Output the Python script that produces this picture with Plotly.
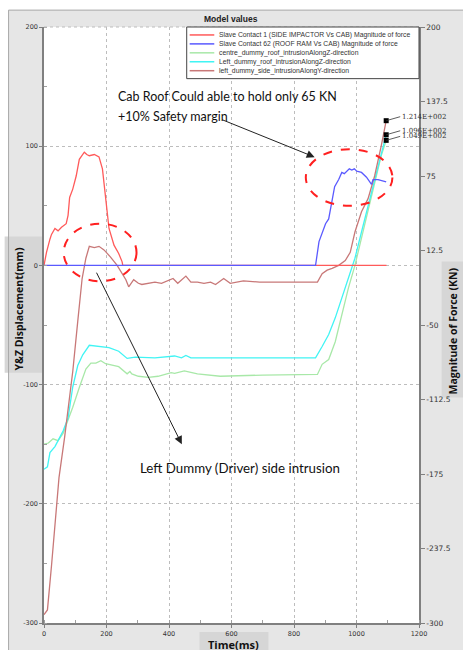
import math
import plotly.graph_objects as go

# ---------------- data ----------------
t_side_force = [0, 8, 19, 24, 35, 45, 56, 62, 71, 77, 82, 92, 103, 113, 129, 137, 145, 161, 176, 187,
                197, 208, 224, 239, 250, 252, 1096]
side_force = [0, 11, 22, 26, 31, 29, 32, 33, 35, 42, 57, 64, 75, 89, 95, 93, 92, 93, 91, 81,
              59, 31, 17, 10, 3, 0, 0]

t_roof_force = [0, 869, 880, 901, 911, 922, 930, 943, 953, 961, 969, 977, 985, 993, 1001, 1016,
                1032, 1048, 1053, 1069, 1095]
roof_force = [0, 0, 20, 35, 39, 53, 66, 72, 78, 77, 79, 81, 80, 81, 79, 78,
              74, 68, 72, 72, 70]

t_centre_z = [0, 14, 29, 45, 61, 77, 92, 113, 134, 150, 166, 182, 197, 239, 266, 275, 281, 302, 334,
              365, 407, 418, 449, 491, 564, 700, 869, 875, 890, 911, 932, 953, 974, 995, 1016,
              1037, 1058, 1079, 1095]
centre_z = [-150, -149, -145.5, -147, -141, -130, -119, -102.5, -87, -82, -82, -80, -82.5, -85, -91,
            -89, -91, -93, -94, -93, -90, -90.5, -88.5, -91, -93, -92, -92, -91.5, -83, -79, -64,
            -41, -19, 0, 22.5, 47.5, 70, 92, 104.9]

t_left_z = [0, 11, 19, 35, 45, 61, 77, 92, 108, 124, 145, 176, 208, 239, 266, 292, 355, 418, 440,
            454, 470, 600, 869, 890, 911, 932, 953, 974, 995, 1016, 1037, 1058, 1079, 1095]
left_z = [-171, -169, -157, -152, -147, -139, -128, -102, -84, -75, -67, -68, -69, -72, -78, -77,
          -77.5, -76, -77.5, -75.5, -77.5, -77.5, -77.5, -68, -58, -44, -27.5, -11, 6, 28, 50,
          72.5, 92, 109.6]

t_left_y = [0, 11, 24, 35, 48, 66, 77, 92, 108, 122, 134, 145, 161, 176, 192, 213, 234, 250, 262,
            271, 287, 302, 313, 355, 376, 413, 428, 454, 470, 491, 512, 533, 549, 575, 596, 638,
            690, 796, 875, 890, 906, 922, 943, 964, 980, 995, 1016, 1037, 1058, 1079, 1095]
left_y = [-293, -289, -252, -216, -178, -144, -122, -89, -47, -11, 6, 16, 15, 16, 13, 7, 0, -7, -12,
          -18, -12, -15, -16, -14, -15, -11, -15, -9, -14, -14, -15, -14, -16, -11, -15, -13,
          -14, -14, -14, -7, -4, -2.5, 0, 4, 11, 28, 45, 56, 75, 100, 121.4]

series_names = [
    "Slave Contact 1 (SIDE IMPACTOR Vs CAB) Magnitude of force",
    "Slave Contact 62 (ROOF RAM Vs CAB) Magnitude of force",
    "centre_dummy_roof_intrusionAlongZ-direction",
    "Left_dummy_roof_intrusionAlongZ-direction",
    "left_dummy_side_intrusionAlongY-direction",
]
series_colors = ["#ff5a5a", "#5a5aff", "#a8e8a8", "#40f4f4", "#c87878"]

x_ticks = [0, 200, 400, 600, 800, 1000, 1200]
y_ticks = [-300, -200, -100, 0, 100, 200]
y2_ticks = [-300, -237.5, -175, -112.5, -50, 12.5, 75, 137.5, 200]

# ---------------- layout helpers (pixel -> paper) ----------------
W, H = 463, 650
L, R, T, B = 44, 425, 27, 627


def px(xp):
    return (xp - L) / (R - L)


def py(yp):
    return (B - yp) / (B - T)


def sci(v):
    e = int(math.floor(math.log10(abs(v))))
    m = v / 10 ** e
    return f"{m:.3f}E{'+' if e >= 0 else '-'}{abs(e):03d}"


fig = go.Figure()

disp = [(t_centre_z, centre_z), (t_left_z, left_z), (t_left_y, left_y)]
for (xs, ys), nm, col in zip(disp, series_names[2:], series_colors[2:]):
    fig.add_trace(go.Scatter(x=xs, y=ys, mode="lines", name=nm, showlegend=False,
                             line=dict(color=col, width=1.3), yaxis="y"))

for (xs, ys), nm, col in zip([(t_side_force, side_force), (t_roof_force, roof_force)],
                             series_names[:2], series_colors[:2]):
    fig.add_trace(go.Scatter(x=xs, y=ys, mode="lines", name=nm, showlegend=False,
                             line=dict(color=col, width=1.3), yaxis="y2"))

# end markers
ends = [(t_left_y[-1], left_y[-1]), (t_left_z[-1], left_z[-1]), (t_centre_z[-1], centre_z[-1])]
fig.add_trace(go.Scatter(x=[e[0] for e in ends], y=[e[1] for e in ends], mode="markers",
                         marker=dict(symbol="square", size=5, color="black"),
                         showlegend=False, yaxis="y"))

annotations = []
for (ex, ey) in ends:
    annotations.append(dict(x=ex, y=ey, xref="x", yref="y", text=sci(ey), showarrow=True,
                            arrowhead=0, arrowwidth=0.8, arrowcolor="#333", ax=14, ay=-4,
                            xanchor="left", yanchor="middle",
                            font=dict(family="DejaVu Serif", size=7, color="#333")))

shapes = []
# white outer strips + frame border
shapes.append(dict(type="rect", xref="paper", yref="paper", x0=px(-5), x1=px(470), y0=py(10),
                   y1=py(-5), fillcolor="white", line=dict(width=0), layer="below"))
shapes.append(dict(type="rect", xref="paper", yref="paper", x0=px(-5), x1=px(8), y0=py(660),
                   y1=py(-5), fillcolor="white", line=dict(width=0), layer="below"))
shapes.append(dict(type="line", xref="paper", yref="paper", x0=px(8), x1=px(470), y0=py(10),
                   y1=py(10), line=dict(color="#a8a8a8", width=1)))
shapes.append(dict(type="line", xref="paper", yref="paper", x0=px(8), x1=px(8), y0=py(10),
                   y1=py(660), line=dict(color="#a8a8a8", width=1)))
# top grid
shapes.append(dict(type="line", xref="paper", yref="paper", x0=0, x1=1, y0=1, y1=1,
                   line=dict(color="#bdbdbd", width=1, dash="dot")))
# axis title boxes
shapes.append(dict(type="rect", xref="paper", yref="paper", x0=px(4), x1=px(44), y0=py(375),
                   y1=py(238), fillcolor="#d6d6d6", line=dict(width=0), layer="below"))
shapes.append(dict(type="rect", xref="paper", yref="paper", x0=px(202), x1=px(272), y0=py(655),
                   y1=py(636), fillcolor="#d6d6d6", line=dict(width=0), layer="below"))
shapes.append(dict(type="rect", xref="paper", yref="paper", x0=px(448), x1=px(470), y0=py(400),
                   y1=py(263), fillcolor="#d6d6d6", line=dict(width=0), layer="below"))

# custom legend
shapes.append(dict(type="rect", xref="paper", yref="paper", x0=px(189), x1=px(425), y0=py(79),
                   y1=py(27), fillcolor="white", line=dict(color="#444", width=1)))
rows = [35, 44, 53, 62, 71]
for r, i in zip(rows, range(5)):
    shapes.append(dict(type="line", xref="paper", yref="paper", x0=px(192), x1=px(217),
                       y0=py(r), y1=py(r), line=dict(color=series_colors[i], width=1.5)))
    annotations.append(dict(x=px(220), y=py(r), xref="paper", yref="paper", text=series_names[i],
                            showarrow=False, xanchor="left", yanchor="middle",
                            font=dict(family="Liberation Sans", size=6.8, color="#333")))

annotations.append(dict(x=px(234), y=py(19), xref="paper", yref="paper", text="<b>Model values</b>",
                        showarrow=False, xanchor="center", yanchor="middle",
                        font=dict(family="Liberation Sans", size=8.5, color="#222")))

# ellipses
shapes.append(dict(type="circle", xref="paper", yref="paper", x0=px(310), x1=px(398), y0=py(207),
                   y1=py(150), line=dict(color="#ff2020", width=2, dash="dash")))
shapes.append(dict(type="circle", xref="paper", yref="paper", x0=px(64), x1=px(138), y0=py(283),
                   y1=py(225), line=dict(color="#ff2020", width=2, dash="dash")))

# text callouts
txt_font = dict(family="Lato", size=12.5, color="#111")
annotations.append(dict(x=px(117), y=py(97), xref="paper", yref="paper",
                        text="Cab Roof Could able to hold only 65 KN", showarrow=False,
                        xanchor="left", yanchor="middle", font=txt_font))
annotations.append(dict(x=px(117), y=py(117), xref="paper", yref="paper",
                        text="+10% Safety margin", showarrow=False,
                        xanchor="left", yanchor="middle", font=txt_font))
annotations.append(dict(x=px(140), y=py(471), xref="paper", yref="paper",
                        text="Left Dummy (Driver) side intrusion", showarrow=False,
                        xanchor="left", yanchor="middle",
                        font=dict(family="Lato", size=13.3, color="#111")))
annotations.append(dict(x=px(319), y=py(158), xref="paper", yref="paper", text="", showarrow=True,
                        arrowhead=2, arrowsize=1.6, arrowwidth=1, arrowcolor="#222",
                        ax=225 - 319, ay=120 - 158))
annotations.append(dict(x=px(184), y=py(447), xref="paper", yref="paper", text="", showarrow=True,
                        arrowhead=2, arrowsize=1.6, arrowwidth=1, arrowcolor="#222",
                        ax=98 - 184, ay=274 - 447))

# axis titles
annotations.append(dict(x=px(19), y=py(311), xref="paper", yref="paper",
                        text="<b>Y&amp;Z Displacement(mm)</b>", showarrow=False, textangle=-90,
                        xanchor="center", yanchor="middle",
                        font=dict(family="Open Sans", size=10.5, color="#111")))
annotations.append(dict(x=px(237), y=py(649), xref="paper", yref="paper",
                        text="<b>Time(ms)</b>", showarrow=False, xanchor="center", yanchor="middle",
                        font=dict(family="Open Sans", size=11, color="#111")))
annotations.append(dict(x=px(459), y=py(333), xref="paper", yref="paper",
                        text="<b>Magnitude of Force (KN)</b>", showarrow=False, textangle=-90,
                        xanchor="center", yanchor="middle",
                        font=dict(family="Open Sans", size=10.5, color="#111")))

tick_font = dict(family="DejaVu Sans", size=6.5, color="#333")
fig.update_layout(
    width=W, height=H,
    margin=dict(l=L, r=W - R, t=T, b=H - B, pad=0),
    paper_bgcolor="#e6e6e6", plot_bgcolor="white",
    showlegend=False,
    xaxis=dict(range=[0, 1200], tickvals=x_ticks, ticktext=[str(v) for v in x_ticks],
               showline=True, linecolor="#808080", linewidth=1.5, zeroline=False,
               showgrid=True, gridcolor="#bdbdbd", griddash="dot", gridwidth=1,
               ticks="outside", ticklen=3, tickcolor="#808080", tickfont=tick_font,
               minor=dict(dtick=100, ticks="inside", ticklen=3, tickcolor="#a0a0a0", showgrid=False)),
    yaxis=dict(range=[-300, 200], tickvals=y_ticks, ticktext=[str(v) for v in y_ticks],
               showline=True, linecolor="#808080", linewidth=1.5, zeroline=False,
               showgrid=True, gridcolor="#bdbdbd", griddash="dot", gridwidth=1,
               ticks="outside", ticklen=3, tickcolor="#808080", tickfont=tick_font,
               minor=dict(dtick=50, ticks="inside", ticklen=3, tickcolor="#a0a0a0", showgrid=False)),
    yaxis2=dict(range=[-300, 200], overlaying="y", side="right", tickvals=y2_ticks,
                ticktext=[f"{v:g}" for v in y2_ticks],
                showline=True, linecolor="#808080", linewidth=1.5, zeroline=False, showgrid=False,
                ticks="outside", ticklen=4, tickcolor="#808080",
                tickfont=dict(family="DejaVu Sans", size=7.5, color="#333")),
    shapes=shapes,
    annotations=annotations,
)

fig.write_html("out.html", config={"displayModeBar": False},
               post_script="document.body.style.margin='0';document.body.style.overflow='hidden';")
